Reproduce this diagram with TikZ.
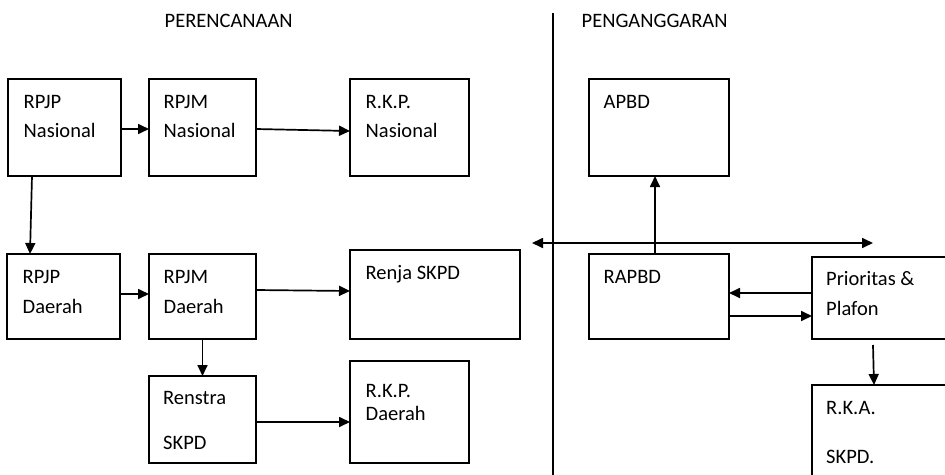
\documentclass[tikz,border=0pt]{standalone}
\usepackage{fontspec}
\setmainfont{Carlito}
\usetikzlibrary{arrows.meta}
\begin{document}
\begin{tikzpicture}[x=1pt,y=-1pt,
  box/.style={draw=black,line width=1.7pt,rectangle,inner sep=0pt,outer sep=0pt,anchor=north west},
  txt/.style={inner sep=0pt,anchor=base west,font=\fontsize{20.5pt}{24pt}\selectfont},
  arr/.style={line width=1.7pt,-{Triangle[length=11pt,width=10pt]}},
  darr/.style={line width=1.7pt,{Triangle[length=11pt,width=10pt]}-{Triangle[length=11pt,width=10pt]}}]
\useasboundingbox (0,0) rectangle (945,474);
\clip (0,0) rectangle (945,474);
% headers
\node[txt] (hp) at (164.5,27) {PERENCANAAN};
\node[txt] (hg) at (581.5,27) {PENGANGGARAN};
% divider
\coordinate (dt) at (553,13);
\coordinate (db) at (553,480);
\draw[line width=1.7pt] (dt) -- (db);
% boxes
\node[box,minimum width=113pt,minimum height=97pt] (rpjpn) at (8,79) {};
\node[box,minimum width=107pt,minimum height=97pt] (rpjmn) at (149,79) {};
\node[box,minimum width=119pt,minimum height=97pt] (rkpn) at (350,79) {};
\node[box,minimum width=113pt,minimum height=85pt] (rpjpd) at (7,254) {};
\node[box,minimum width=107pt,minimum height=85pt] (rpjmd) at (149,254) {};
\node[box,minimum width=170pt,minimum height=89pt] (renja) at (350,250) {};
\node[box,minimum width=107pt,minimum height=87pt] (renstra) at (149,376) {};
\node[box,minimum width=119pt,minimum height=102pt] (rkpd) at (350,361) {};
\node[box,minimum width=140pt,minimum height=97pt] (apbd) at (589,79) {};
\node[box,minimum width=140pt,minimum height=85pt] (rapbd) at (589,254) {};
\node[box,minimum width=150pt,minimum height=82pt] (prior) at (812,257) {};
\node[box,minimum width=150pt,minimum height=100pt] (rka) at (812,385) {};
% texts
\node[txt] (t1a) at (23.5,108) {RPJP};
\node[txt] (t1b) at (23.5,137) {Nasional};
\node[txt] (t2a) at (163.5,108) {RPJM};
\node[txt] (t2b) at (163.5,137) {Nasional};
\node[txt] (t3a) at (365.5,108) {R.K.P.};
\node[txt] (t3b) at (365.5,137) {Nasional};
\node[txt] (t4a) at (22.5,283) {RPJP};
\node[txt] (t4b) at (22.5,313) {Daerah};
\node[txt] (t5a) at (163.5,283) {RPJM};
\node[txt] (t5b) at (163.5,313) {Daerah};
\node[txt] (t6) at (365.5,279) {Renja SKPD};
\node[txt] (t7a) at (163,404) {Renstra};
\node[txt] (t7b) at (163,449) {SKPD};
\node[txt] (t8a) at (365.5,397) {R.K.P.};
\node[txt] (t8b) at (365.5,420) {Daerah};
\node[txt] (t9) at (603.5,108) {APBD};
\node[txt] (t10) at (603.5,283) {RAPBD};
\node[txt] (t11a) at (826,285) {Prioritas \&};
\node[txt] (t11b) at (826,315) {Plafon};
\node[txt] (t12a) at (826,414) {R.K.A.};
\node[txt] (t12b) at (826,463) {SKPD.};
% connectors
\draw[arr] ([yshift=-1.5pt]rpjpn.east) -- ([yshift=-1.5pt]rpjmn.west);
\draw[arr] ([yshift=-1.5pt]rpjmn.east) -- ([yshift=-3.5pt]rkpn.west);
\draw[arr] ([xshift=24pt]rpjpn.south west) -- ([xshift=23pt]rpjpd.north west);
\draw[arr] ([yshift=2.5pt]rpjpd.east) -- ([yshift=2.5pt]rpjmd.west);
\draw[arr] ([yshift=6.5pt]rpjmd.east) -- ([yshift=3.5pt]renja.west);
\draw[arr] (rpjmd.south) -- (renstra.north);
\draw[arr] ([yshift=-2.5pt]renstra.east) -- ([yshift=-10pt]rkpd.west);
\draw[arr] ([xshift=-4pt]rapbd.north) -- ([xshift=-4pt]apbd.south);
\coordinate (hl) at (532,243);
\coordinate (hr) at (873,243);
\draw[darr] (hl) -- (hr);
\draw[arr] ([yshift=5pt]prior.west) -- ([yshift=3.5pt]rapbd.east);
\draw[arr] ([yshift=-19.5pt]rapbd.east) -- ([yshift=-18pt]prior.west);
\draw[arr] ([xshift=61pt,yshift=-6pt]prior.south west) -- ([xshift=62pt]rka.north west);
\end{tikzpicture}
\end{document}
